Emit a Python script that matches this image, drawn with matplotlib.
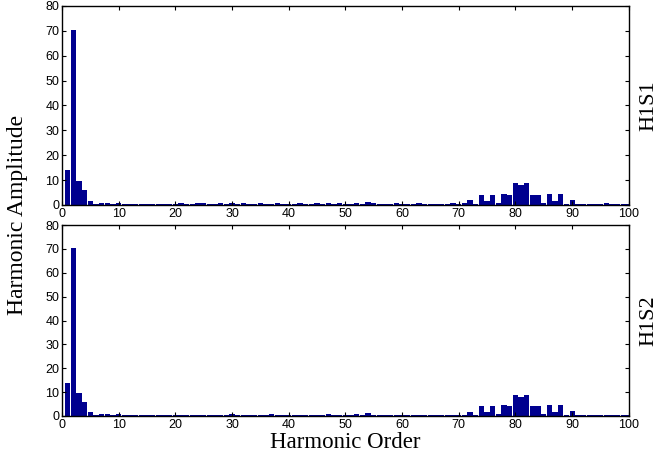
# Harmonic spectra for H1S1 and H1S2
import numpy as np
import matplotlib
matplotlib.use('Agg')
import matplotlib.pyplot as plt

orders = np.arange(1, 101)

h1s1 = [14, 70.5, 9.5, 6, 1.7, 0.4, 1.0, 0.9, 0.4, 0.9,
        0.3, 0.4, 0.5, 0.4, 0.5, 0.3, 0.3, 0.4, 0.3, 0.4,
        0.6, 0.5, 0.4, 0.8, 0.6, 0.4, 0.3, 0.6, 0.5, 0.7,
        0.5, 0.6, 0.5, 0.4, 0.8, 0.3, 0.4, 0.6, 0.3, 0.5,
        0.4, 0.6, 0.4, 0.3, 0.7, 0.4, 1.0, 0.4, 0.7, 0.5,
        0.4, 1.0, 0.5, 1.4, 0.6, 0.4, 0.3, 0.5, 0.6, 0.4,
        0.5, 0.4, 0.7, 0.3, 0.4, 0.5, 0.3, 0.4, 0.6, 0.5,
        0.7, 2.0, 0.5, 4.0, 1.8, 4.0, 1.0, 4.5, 4.0, 9.0,
        8.0, 9.0, 4.0, 4.0, 1.0, 4.5, 1.7, 4.5, 0.3, 2.0,
        0.4, 0.4, 0.3, 0.5, 0.3, 0.7, 0.3, 0.5, 0.3, 0.4]

h1s2 = [14, 70.5, 9.5, 6, 1.6, 0.4, 1.0, 0.8, 0.4, 0.9,
        0.3, 0.4, 0.3, 0.4, 0.4, 0.3, 0.3, 0.4, 0.3, 0.3,
        0.4, 0.3, 0.4, 0.6, 0.4, 0.3, 0.3, 0.4, 0.5, 0.8,
        0.4, 0.5, 0.3, 0.4, 0.5, 0.3, 0.7, 0.4, 0.3, 0.4,
        0.3, 0.6, 0.4, 0.3, 0.5, 0.4, 0.9, 0.4, 0.6, 0.5,
        0.4, 0.9, 0.5, 1.3, 0.5, 0.4, 0.3, 0.5, 0.5, 0.4,
        0.4, 0.3, 0.5, 0.3, 0.4, 0.5, 0.3, 0.4, 0.5, 0.4,
        0.5, 1.8, 0.5, 4.0, 1.8, 4.0, 1.0, 4.5, 4.0, 9.0,
        8.0, 9.0, 4.0, 4.0, 1.0, 4.5, 1.7, 4.5, 0.3, 2.0,
        0.4, 0.3, 0.3, 0.5, 0.3, 0.6, 0.3, 0.5, 0.3, 0.4]

names = ['H1S1', 'H1S2']
bar_color = '#00008f'
tick_font = 'Liberation Sans'
label_font = 'Liberation Serif'

fig = plt.figure(figsize=(6.63, 4.59), dpi=100)
ax1 = fig.add_axes([0.0935, 0.5534, 0.855, 0.4336])
ax2 = fig.add_axes([0.0935, 0.0937, 0.855, 0.416])

for ax, vals, name in zip([ax1, ax2], [h1s1, h1s2], names):
    ax.bar(orders, vals, width=0.94, color=bar_color, edgecolor='none')
    ax.set_xlim(0, 100)
    ax.set_ylim(0, 80)
    ax.set_xticks(np.arange(0, 101, 10))
    ax.set_yticks(np.arange(0, 81, 10))
    ax.tick_params(direction='in', top=True, right=True, length=3, width=0.8,
                   labelsize=9, pad=2)
    for lbl in ax.get_xticklabels() + ax.get_yticklabels():
        lbl.set_family(tick_font)
    for s in ax.spines.values():
        s.set_linewidth(1.0)
    ax.text(1.035, 0.5, name, transform=ax.transAxes, rotation=90,
            ha='center', va='center', fontsize=16, family=label_font)

fig.text(0.027, 0.532, 'Harmonic Amplitude', rotation=90, ha='center', va='center',
         fontsize=17, family=label_font)
ax2.set_xlabel('Harmonic Order', fontsize=16.5, family=label_font, labelpad=1)

fig.savefig('out.png', dpi=100)
